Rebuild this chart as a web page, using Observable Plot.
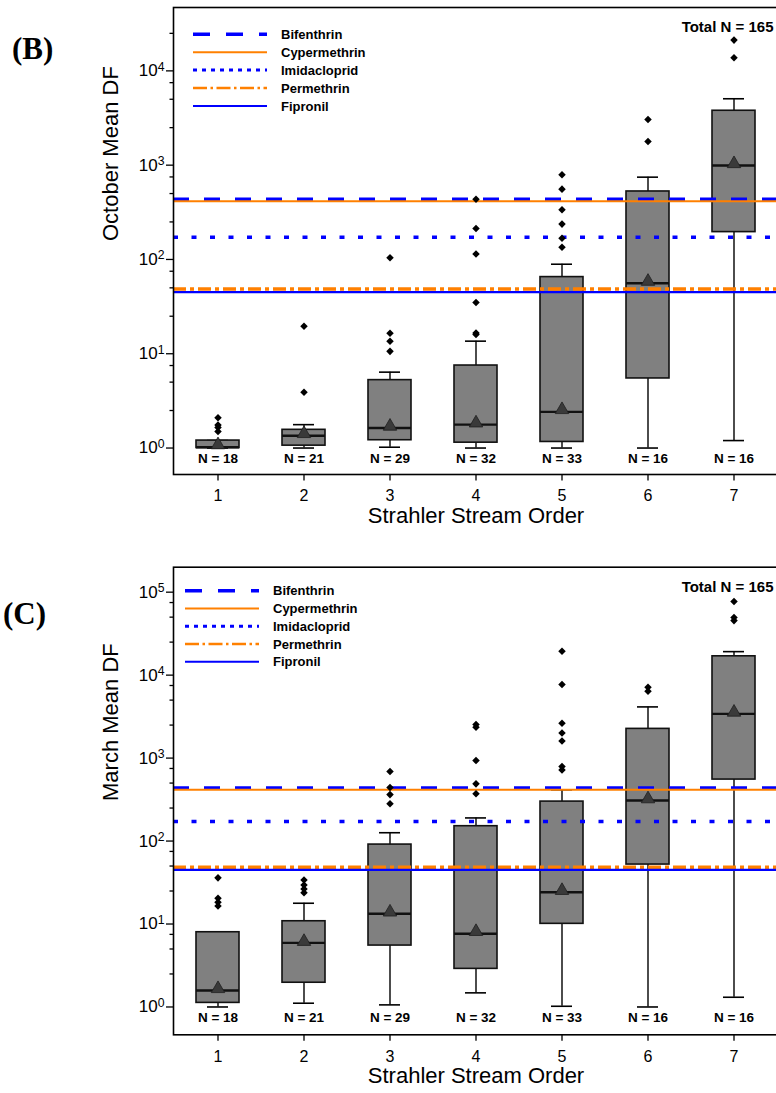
<!DOCTYPE html>
<html>
<head>
<meta charset="utf-8">
<script src="https://cdn.jsdelivr.net/npm/d3@7"></script>
<script src="https://cdn.jsdelivr.net/npm/@observablehq/plot@0.6"></script>
<style>
html, body { margin: 0; padding: 0; background: #fff; overflow: hidden; }
#fig { position: relative; width: 776px; height: 1093px; overflow: hidden; background: #fff;
       font-family: "Liberation Sans", Arial, sans-serif; }
.panel { position: absolute; left: 0; }
.panel svg { max-width: none !important; }
#overlay { position: absolute; left: 0; top: 0; pointer-events: none; }
</style>
</head>
<body>
<div id="fig"></div>
<script>
// ---------------- data ----------------
const orders = [1, 2, 3, 4, 5, 6, 7];
const counts = [18, 21, 29, 32, 33, 16, 16];
const totalN = 165;

const thresholdNames  = ["Bifenthrin", "Cypermethrin", "Imidacloprid", "Permethrin", "Fipronil"];
const thresholdValues = [435, 415, 172, 48.5, 45];

// October (panel B)
const octLow    = [1.0, 1.0, 1.02, 1.0, 1.0, 1.0, 1.2];
const octQ1     = [1.0, 1.06, 1.21, 1.14, 1.16, 5.47, 195];
const octMedian = [1.02, 1.35, 1.63, 1.77, 2.42, 56, 993];
const octQ3     = [1.2, 1.56, 5.25, 7.5, 65, 526, 3776];
const octHigh   = [1.2, 1.77, 6.38, 13.6, 89, 746, 5060];
const octMean   = [1.08, 1.42, 1.7, 1.84, 2.55, 58.5, 1035];
const octOutliers = [
  [2.1, 1.75, 1.65, 1.5],
  [19.6, 3.9],
  [104, 16.5, 13.6, 10.6],
  [435, 213, 114, 35, 16.6, 16],
  [791, 557, 337, 237, 168, 135],
  [3050, 1780],
  [21200, 13800]
];

// March (panel C)
const marLow    = [1.0, 1.11, 1.06, 1.48, 1.02, 1.0, 1.31];
const marQ1     = [1.12, 1.96, 5.5, 2.88, 10.05, 52.1, 551];
const marMedian = [1.58, 5.93, 13.3, 7.62, 24.2, 308, 3410];
const marQ3     = [7.96, 10.8, 90.7, 151, 299, 2250, 16860];
const marHigh   = [7.96, 17.8, 126, 190, 415, 4140, 19200];
const marMean   = [1.66, 6.15, 13.9, 8.1, 25.3, 322, 3565];
const marOutliers = [
  [36, 20.5, 18.3, 16.5],
  [34, 29.5, 26.5, 23.8],
  [688, 441, 363, 281],
  [2535, 2350, 933, 489, 371],
  [19360, 7690, 2625, 2010, 1610, 790, 721],
  [7130, 6380],
  [77400, 49600, 45400]
];

// axis ticks
const xTickValues = orders;
const yTicksOct = [1, 10, 100, 1000, 10000];
const yTicksMar = [1, 10, 100, 1000, 10000, 100000];
const minorMultipliers = [2.5, 5, 7.5];
const xTitle = "Strahler Stream Order";

// ---------------- styles ----------------
const lineStyles = [
  {stroke: "#0000ff", width: 3.5, dash: "16,15",      legendWidth: 3.5, legendDash: "17,16"},
  {stroke: "#ff8000", width: 2.0, dash: null,         legendWidth: 2.0, legendDash: null},
  {stroke: "#0000ff", width: 3.5, dash: "5,13.5",     legendWidth: 3.0, legendDash: "4,5"},
  {stroke: "#ff8000", width: 3.5, dash: "13,4,4,4",   legendWidth: 2.5, legendDash: "14,3.5,2.5,3.5"},
  {stroke: "#0000ff", width: 2.2, dash: null,         legendWidth: 2.0, legendDash: null}
];

const panels = [
  {tag: "(B)", yLabel: "October Mean DF", low: octLow, q1: octQ1, median: octMedian, q3: octQ3,
   high: octHigh, mean: octMean, outliers: octOutliers, yTicks: yTicksOct,
   top: 0, height: 540, marginTop: 7, marginBottom: 66, yDomain: [0.524, 47000], nDy: -11.5,
   tagX: 12, tagY: 58.5, legX: 193, legTextX: 281, legY: 34.3, legStep: 17.9},
  {tag: "(C)", yLabel: "March Mean DF", low: marLow, q1: marQ1, median: marMedian, q3: marQ3,
   high: marHigh, mean: marMean, outliers: marOutliers, yTicks: yTicksMar,
   top: 540, height: 553, marginTop: 26.7, marginBottom: 58.7, yDomain: [0.462, 200000], nDy: -12.6,
   tagX: 3, tagY: 623.5, legX: 185, legTextX: 273, legY: 590.7, legStep: 17.75}
];

const fig = document.getElementById("fig");
const W = 778; // plot extends slightly past the visible window, as in the cropped source

function buildPanel(p) {
  const rows = orders.map((o, i) => ({
    order: o, lo: p.low[i], q1: p.q1[i], med: p.median[i], q3: p.q3[i],
    hi: p.high[i], mean: p.mean[i], n: counts[i]
  }));
  const outl = orders.flatMap((o, i) => p.outliers[i].map(v => ({order: o, v})));
  const minor = p.yTicks.flatMap(m => minorMultipliers.map(k => m * k)).filter(v => v <= p.yDomain[1]);
  const thr = thresholdNames.map((name, i) => ({name, value: thresholdValues[i]}));

  const plot = Plot.plot({
    width: W,
    height: p.height,
    marginLeft: 173,
    marginRight: 0,
    marginTop: p.marginTop,
    marginBottom: p.marginBottom,
    style: {fontFamily: "'Liberation Sans', Arial, sans-serif", fontSize: "16px", background: "transparent", color: "#000"},
    x: {type: "band", domain: orders, paddingInner: 0.5, paddingOuter: 0.25, align: 0.5, label: null},
    y: {type: "log", domain: p.yDomain, label: null},
    marks: [
      Plot.ruleX(rows, {x: "order", y1: "lo", y2: "hi", stroke: "#000", strokeWidth: 1.4}),
      Plot.tickY(rows, {x: "order", y: "lo", stroke: "#000", strokeWidth: 1.6, insetLeft: 11, insetRight: 11}),
      Plot.tickY(rows, {x: "order", y: "hi", stroke: "#000", strokeWidth: 1.6, insetLeft: 11, insetRight: 11}),
      Plot.barY(rows, {x: "order", y1: "q1", y2: "q3", fill: "#808080", stroke: "#111", strokeWidth: 1.6}),
      Plot.tickY(rows, {x: "order", y: "med", stroke: "#111", strokeWidth: 2.4}),
      Plot.dot(rows, {x: "order", y: "mean", symbol: "triangle", r: 5, fill: "#3a3a3a", stroke: "#1e1e1e", strokeWidth: 0.8}),
      ...thr.map((t, i) => Plot.ruleY([t], {
        y: "value", stroke: lineStyles[i].stroke, strokeWidth: lineStyles[i].width,
        strokeDasharray: lineStyles[i].dash || undefined
      })),
      Plot.dot(outl, {x: "order", y: "v", symbol: "diamond2", r: 3.4, fill: "#000", stroke: "none"}),
      Plot.text(rows, {x: "order", text: d => `N = ${d.n}`, frameAnchor: "bottom", dy: p.nDy,
        fontWeight: "bold", fontSize: 13.5, fill: "#000"}),
      Plot.text([`Total N = ${totalN}`], {text: d => d, frameAnchor: "top-right", textAnchor: "end",
        dx: -5, dy: 14, fontWeight: "bold", fontSize: 15, fill: "#000"}),
      Plot.text([p.yLabel], {text: d => d, frameAnchor: "left", rotate: -90, dx: -63, fontSize: 22, fill: "#000"}),
      Plot.text([xTitle], {text: d => d, frameAnchor: "bottom", dy: 48, fontSize: 22, fill: "#000"}),
      Plot.axisY({ticks: minor, tickSize: 3.5, tickFormat: null, label: null, strokeWidth: 1.3}),
      Plot.axisY({ticks: p.yTicks, tickSize: 7, tickPadding: 2, fontSize: 17, label: null, strokeWidth: 1.3,
        tickFormat: d => "10^" + Math.round(Math.log10(d))}),
      Plot.axisX({ticks: xTickValues, tickSize: 6.5, tickPadding: 9, fontSize: 16, label: null, strokeWidth: 1.3}),
      Plot.frame({stroke: "#000", strokeWidth: 1.6})
    ]
  });

  // superscript exponents on the log axis labels
  d3.select(plot).selectAll('g[aria-label="y-axis tick label"] text').each(function () {
    const t = this.textContent;
    const parts = t.split("^");
    if (parts.length !== 2) return;
    this.textContent = parts[0];
    d3.select(this).append("tspan").attr("dy", "-0.45em").attr("font-size", "0.72em").text(parts[1]);
  });

  const holder = document.createElement("div");
  holder.className = "panel";
  holder.style.top = p.top + "px";
  holder.appendChild(plot);
  fig.appendChild(holder);
}

panels.forEach(buildPanel);

// ---------------- overlay: panel tags and legends ----------------
const ov = d3.select(fig).append("svg").attr("id", "overlay")
  .attr("width", 776).attr("height", 1093);

panels.forEach(p => {
  ov.append("text").attr("x", p.tagX).attr("y", p.tagY)
    .attr("font-family", "'Liberation Serif', 'Times New Roman', serif")
    .attr("font-weight", "bold").attr("font-size", 31).attr("fill", "#000").text(p.tag);
  thresholdNames.forEach((name, i) => {
    const y = p.legY + i * p.legStep;
    const s = lineStyles[i];
    ov.append("line").attr("x1", p.legX).attr("x2", p.legX + 74).attr("y1", y).attr("y2", y)
      .attr("stroke", s.stroke).attr("stroke-width", s.legendWidth)
      .attr("stroke-dasharray", s.legendDash);
    ov.append("text").attr("x", p.legTextX).attr("y", y).attr("dy", "0.36em")
      .attr("font-family", "'Liberation Sans', Arial, sans-serif").attr("font-weight", "bold")
      .attr("font-size", 13).attr("fill", "#000").text(name);
  });
});
</script>
</body>
</html>
